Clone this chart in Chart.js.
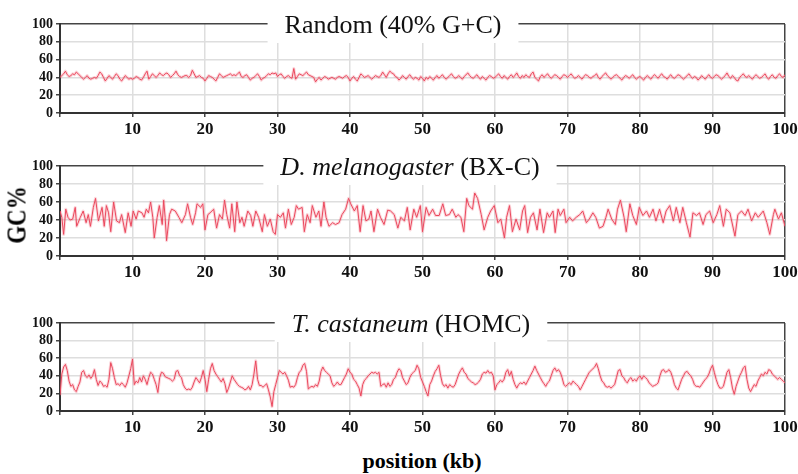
<!DOCTYPE html>
<html>
<head>
  <meta charset="utf-8">
  <title>GC content along three regions</title>
  <script src="https://cdn.jsdelivr.net/npm/chart.js"></script>
<style>
body {
  margin: 0;
  background: #fff;
}
#wrap {
  position: relative;
  width: 798px;
  height: 474px;
  font-family: "Liberation Serif", "Times New Roman", serif;
}
#wrap canvas {
  position: absolute;
  left: 0;
}
#ylabel {
  position: absolute;
  left: 17px;
  top: 215px;
  transform: translate(-50%, -50%) rotate(-90deg) scaleX(0.85);
  font-weight: bold;
  font-size: 27px;
  line-height: 27px;
  white-space: nowrap;
}
#xlabel {
  position: absolute;
  left: 422px;
  top: 461px;
  transform: translate(-50%, -50%);
  font-weight: bold;
  font-size: 22px;
  white-space: nowrap;
}
</style>
</head>
<body>
<div id="wrap">
  <canvas id="c1" width="798" height="139" style="top:0px"></canvas>
  <canvas id="c2" width="798" height="140" style="top:142px"></canvas>
  <canvas id="c3" width="798" height="138" style="top:299px"></canvas>
  <div id="ylabel">GC%</div>
  <div id="xlabel">position (kb)</div>
</div>

<script>
// window spacing (kb) for the two evenly sampled tracks
const STEP = 0.25;

const xTicks = [10, 20, 30, 40, 50, 60, 70, 80, 90, 100];
const yTicks = [0, 20, 40, 60, 80, 100];

// Random sequence, 40% G+C
const randomValues = [
  40,42,44,47,43,41,42,44,43,46,44,42,40,38,40,42,39,38,39,40,
  39,42,46,44,40,36,39,42,40,38,41,44,42,38,36,39,42,40,38,39,
  38,39,41,40,38,37,40,44,47,38,41,44,42,40,42,45,43,42,44,45,
  43,40,42,44,47,43,41,40,41,42,42,40,42,48,44,40,41,42,40,39,
  36,39,42,41,40,38,36,40,44,42,40,41,42,43,44,42,43,42,44,46,
  41,40,42,43,40,37,39,40,42,44,41,37,39,40,42,44,43,45,44,45,
  41,43,44,41,39,41,42,40,39,50,38,41,44,43,42,44,46,43,42,41,
  40,35,38,40,37,39,41,40,38,39,40,39,38,40,41,40,39,41,42,40,
  36,39,41,38,36,40,44,42,40,41,42,40,38,40,42,41,40,42,46,43,
  40,44,47,45,44,41,40,37,39,42,40,38,41,43,40,38,40,39,37,41,
  39,36,40,38,41,39,37,40,42,39,41,43,40,38,40,42,44,41,39,40,
  42,40,38,41,43,45,42,40,39,41,43,40,38,41,39,37,40,42,41,39,
  40,42,44,41,39,42,40,38,41,43,40,42,45,41,39,42,40,43,41,40,
  44,46,40,38,36,41,43,40,42,44,41,39,41,43,42,40,38,41,43,42,
  40,42,44,41,39,40,42,40,38,41,43,42,40,39,41,42,44,40,38,41,
  43,45,42,40,38,40,42,43,41,39,37,40,42,41,39,41,43,40,38,40,
  41,39,37,40,42,40,38,41,43,41,39,42,44,41,40,38,41,43,40,39,
  41,43,42,40,38,40,42,44,41,39,41,40,37,39,42,40,38,41,43,40,
  39,41,43,42,40,38,40,42,45,41,39,42,40,37,36,40,42,44,41,40,
  42,40,38,41,43,41,39,40,42,44,40,38,41,43,40,39,42,44,41,40,
  43
];

// D. melanogaster BX-C
const melPositions = [
  0,0.25,0.5,0.8,1.1,1.4,1.75,2.1,2.3,2.8,3.2,3.6,3.9,4.2,4.6,4.9,5.3,5.8,6.1,6.4,
  6.7,7.0,7.4,7.8,8.2,8.5,9.0,9.4,9.8,10.1,10.5,10.8,11.3,11.6,11.9,12.2,12.5,12.8,13.0,13.4,
  13.7,14.1,14.3,14.5,14.7,15.1,15.4,15.9,16.4,16.8,17.3,17.6,18.0,18.3,18.7,18.9,19.4,19.7,20.0,20.4,
  20.7,21.2,21.6,22.0,22.4,22.7,23.0,23.4,23.7,24.1,24.4,24.8,25.1,25.4,25.9,26.3,26.6,27.0,27.4,27.9,
  28.2,28.6,29.0,29.4,29.7,30.0,30.4,30.8,31.1,31.5,31.9,32.3,32.6,32.9,33.4,33.7,34.1,34.5,34.8,35.3,
  35.7,36.0,36.4,36.7,37.1,37.6,38.0,38.5,38.9,39.4,39.8,40.1,40.6,41.0,41.4,41.8,42.2,42.6,42.9,43.3,
  43.8,44.2,44.7,45.2,45.6,46.1,46.6,47.0,47.5,47.9,48.3,48.8,49.2,49.7,50.0,50.5,50.9,51.4,51.8,52.3,
  52.8,53.2,53.7,54.1,54.6,54.9,55.3,55.7,56.1,56.4,56.9,57.2,57.6,58.1,58.5,59.0,59.4,59.9,60.4,60.8,
  61.3,61.6,62.0,62.4,62.9,63.4,63.8,64.1,64.5,64.9,65.3,65.8,66.2,66.7,67.2,67.5,68.0,68.3,68.7,69.0,
  69.5,69.8,70.3,70.7,71.2,71.7,72.1,72.6,73.0,73.5,73.9,74.4,74.9,75.3,75.6,76.1,76.6,76.9,77.3,77.8,
  78.1,78.6,79.0,79.5,79.9,80.4,80.9,81.3,81.8,82.2,82.7,83.2,83.6,84.1,84.6,85.0,85.5,85.9,86.4,86.9,
  87.3,87.8,88.2,88.7,89.1,89.6,90.1,90.6,91.0,91.5,91.9,92.4,93.1,93.5,94.0,94.5,94.9,95.4,95.9,96.3,
  97.0,97.5,97.9,98.4,98.6,99.1,99.5,100
];
const melValues = [
  50,43,24,52,43,40,41,54,33,43,50,37,46,33,54,64,39,54,33,56,
  48,27,60,39,37,46,26,48,33,50,41,50,48,43,52,48,60,43,20,43,
  56,35,62,43,17,46,52,50,43,37,46,58,43,35,48,58,54,58,29,46,
  48,52,31,46,41,62,46,31,58,27,60,37,43,33,50,45,33,50,43,27,
  46,33,41,27,24,46,43,48,31,52,35,43,56,52,54,27,46,37,56,43,
  50,33,60,43,33,37,35,37,46,52,64,58,50,56,27,56,39,41,50,27,
  52,43,35,51,50,46,31,43,39,54,29,52,43,56,27,54,45,52,45,45,
  58,45,46,52,43,46,43,27,64,56,52,70,64,46,29,43,50,56,37,41,
  20,43,56,27,41,29,50,56,26,43,48,29,52,26,48,43,50,26,52,45,
  52,37,43,39,43,46,50,37,41,48,43,31,33,43,52,41,35,52,62,43,
  27,58,45,35,54,45,50,43,52,39,52,37,50,56,39,54,37,54,37,21,
  48,45,48,35,46,50,37,46,56,33,52,48,22,46,50,45,52,39,48,43,
  50,37,24,46,52,41,48,33
];

// T. castaneum HOMC
const tcasValues = [
  18,42,50,53,46,34,28,30,24,22,28,33,44,46,40,38,41,37,40,47,
  36,29,34,32,28,29,27,36,55,48,38,30,31,29,32,30,27,32,40,48,
  59,30,34,32,38,33,40,36,30,38,44,42,36,30,21,38,44,43,39,38,
  37,36,34,36,45,46,40,38,30,26,24,25,24,27,33,38,35,32,38,46,
  36,22,36,48,54,46,42,39,36,33,37,31,21,26,33,40,36,33,30,28,
  27,26,24,25,28,24,30,42,57,36,29,29,27,29,31,24,16,5,22,30,
  38,46,44,42,44,40,35,27,28,27,30,38,44,46,52,54,45,25,27,28,
  27,30,28,34,45,50,46,44,42,40,32,28,30,33,30,30,34,38,42,48,
  44,42,36,34,30,26,17,30,35,37,40,42,44,43,44,42,44,28,30,31,
  27,32,28,30,36,38,44,48,46,38,34,30,32,38,42,44,46,52,48,38,
  33,28,22,17,30,34,40,45,48,52,40,31,28,30,26,30,28,27,30,36,
  42,46,49,44,42,37,35,33,32,30,31,33,36,42,44,43,46,43,44,40,
  24,30,32,35,33,36,44,47,40,45,36,30,26,30,32,31,33,30,34,38,
  42,46,51,46,42,38,34,31,28,32,34,40,46,49,45,47,44,38,30,28,
  30,32,30,34,32,30,28,24,28,32,36,40,44,46,48,50,54,48,40,34,
  32,28,27,28,26,28,30,38,46,47,40,38,34,32,36,38,34,36,34,38,
  40,36,40,38,36,32,30,28,29,30,32,40,46,47,44,45,47,44,38,30,
  26,24,30,36,40,44,45,42,40,36,30,28,28,27,30,33,36,38,42,48,
  52,44,36,30,26,26,28,36,44,47,38,26,19,28,34,40,44,49,51,36,
  26,22,26,30,28,34,38,42,40,44,42,47,46,42,40,38,36,38,36,34,
  32
];

function gridPoints(values) {
  return values.map((v, i) => ({ x: i * STEP, y: v }));
}

function pairPoints(positions, values) {
  return positions.map((p, i) => ({ x: p, y: values[i] }));
}

// white box with the panel name, sitting on the top frame line
const titleBox = {
  id: 'titleBox',
  afterDraw(chart, args, opts) {
    const ctx = chart.ctx;
    const top = chart.chartArea.top;
    ctx.save();
    let w = 0;
    opts.runs.forEach(r => {
      ctx.font = (r.italic ? 'italic ' : '') + '26px "Liberation Serif", serif';
      r.w = ctx.measureText(r.text).width;
      w += r.w;
    });
    let x = opts.cx - w / 2;
    ctx.fillStyle = '#fff';
    ctx.fillRect(x - 17, top - 14, w + 34, 33);
    ctx.fillStyle = '#111';
    ctx.textBaseline = 'alphabetic';
    opts.runs.forEach(r => {
      ctx.font = (r.italic ? 'italic ' : '') + '26px "Liberation Serif", serif';
      ctx.fillText(r.text, x, top + 9);
      x += r.w;
    });
    ctx.restore();
  }
};

const frameColor = c => (c.tick && c.tick.value === 100 ? '#444' : '#dedede');

function makePanel(id, points, runs, cx) {
  return new Chart(document.getElementById(id), {
    type: 'line',
    data: {
      datasets: [
        {
          data: points,
          borderColor: 'rgba(242, 120, 135, 0.3)',
          borderWidth: 3,
          borderJoinStyle: 'round',
          pointRadius: 0
        },
        {
          data: points,
          borderColor: '#e8344b',
          borderWidth: 1,
          borderJoinStyle: 'round',
          pointRadius: 0
        }
      ]
    },
    options: {
      responsive: false,
      animation: false,
      events: [],
      layout: { padding: { top: 24, right: 13, left: 0, bottom: 0 } },
      plugins: {
        legend: { display: false },
        tooltip: { enabled: false },
        titleBox: { runs: runs, cx: cx }
      },
      scales: {
        x: {
          type: 'linear',
          min: 0,
          max: 100,
          afterBuildTicks: s => { s.ticks = [0].concat(xTicks).map(v => ({ value: v })); },
          afterFit: s => { s.height = 26; s.paddingLeft = 0; s.paddingRight = 0; },
          ticks: {
            color: '#111',
            padding: 2,
            maxRotation: 0,
            autoSkip: false,
            font: { family: '"Liberation Serif", serif', size: 17, weight: 'bold' },
            callback: v => (v === 0 ? '' : v)
          },
          grid: {
            color: frameColor,
            lineWidth: 1.5,
            tickLength: 4,
            tickColor: '#444',
            tickWidth: 1.5
          },
          border: { display: true, color: '#333', width: 2 }
        },
        y: {
          min: 0,
          max: 100,
          afterBuildTicks: s => { s.ticks = yTicks.map(v => ({ value: v })); },
          afterFit: s => { s.width = 60; s.paddingTop = 0; s.paddingBottom = 0; },
          ticks: {
            color: '#111',
            padding: 3,
            autoSkip: false,
            font: { family: '"Liberation Serif", serif', size: 14, weight: 'bold', lineHeight: 1 }
          },
          grid: {
            color: frameColor,
            lineWidth: 1.5,
            tickLength: 4,
            tickColor: '#444',
            tickWidth: 1.5
          },
          border: { display: true, color: '#333', width: 2 }
        }
      }
    },
    plugins: [titleBox]
  });
}

makePanel('c1', gridPoints(randomValues),
  [{ text: 'Random (40% G+C)' }], 393);
makePanel('c2', pairPoints(melPositions, melValues),
  [{ text: 'D. melanogaster', italic: true }, { text: ' (BX-C)' }], 410);
makePanel('c3', gridPoints(tcasValues),
  [{ text: 'T. castaneum', italic: true }, { text: ' (HOMC)' }], 411);
</script>
</body>
</html>
